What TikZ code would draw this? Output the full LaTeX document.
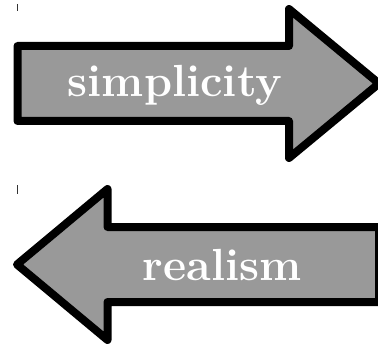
\documentclass[tikz,border=0pt]{standalone}
\usepackage{fontspec}
\begin{document}
\begin{tikzpicture}[x=1pt,y=-1pt,
  arrowshape/.style={draw=black,fill=arrowgray,line width=8pt,line join=round},
  arrowlabel/.style={text=white,font=\fontsize{45}{45}\selectfont\bfseries\addfontfeatures{FakeBold=1.2},inner sep=0pt,anchor=base},
  tickmark/.style={draw=black!80,line width=1pt}]
\definecolor{arrowgray}{RGB}{153,153,153}
\useasboundingbox (0,0) rectangle (378,345);
\begin{scope}
\clip (0,0) rectangle (378,345);
\draw[arrowshape] (17.5,46) -- (289,46) -- (289,9) -- (379,83.5) -- (289,158) -- (289,121) -- (17.5,121) -- cycle;
\draw[arrowshape] (379,227) -- (107.5,227) -- (107.5,189) -- (17,264.5) -- (107.5,340) -- (107.5,302) -- (379,302) -- cycle;
\end{scope}
\node[arrowlabel] (simp) at (175,97) {simplicity};
\node[arrowlabel] (real) at (222,280) {realism};
\coordinate (t1a) at (17.3,4);
\coordinate (t1b) at (17.3,11);
\coordinate (t2a) at (17.3,185);
\coordinate (t2b) at (17.3,194);
\draw[tickmark] (t1a) -- (t1b);
\draw[tickmark] (t2a) -- (t2b);
\end{tikzpicture}
\end{document}
